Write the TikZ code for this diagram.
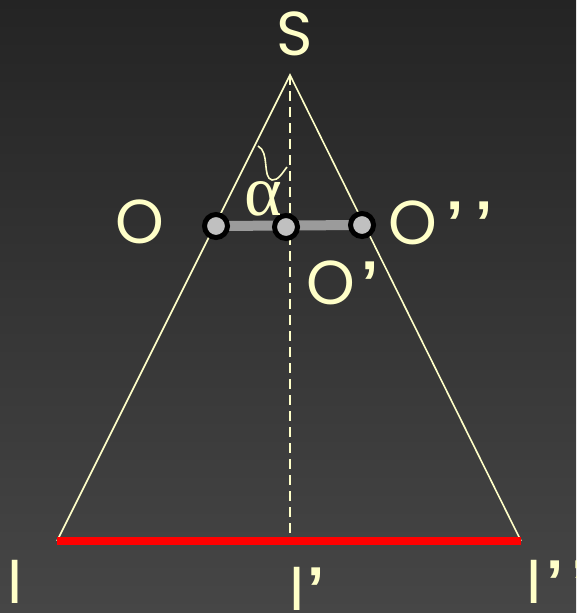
\documentclass[tikz,border=0pt]{standalone}
\usepackage{fontspec}
\setmainfont{Poppins}
\newfontfamily\greekfont{Liberation Serif}
\newfontfamily\quotefont{Liberation Sans}
\usetikzlibrary{positioning}
\definecolor{cream}{RGB}{255,255,200}
\definecolor{bgtop}{RGB}{36,36,36}
\definecolor{bgbot}{RGB}{70,70,70}
\definecolor{rodgray}{RGB}{155,155,155}
\definecolor{dotgray}{RGB}{192,192,192}
\newcommand{\pr}{{\quotefont\bfseries ’}}
\tikzset{
  lbl/.style={text=cream, font=\fontsize{62}{62}\selectfont, inner sep=0pt, anchor=base, text depth=0pt},
  greek/.style={lbl, font=\greekfont\fontsize{72}{72}\selectfont},
  ray/.style={draw=cream, line width=1.6pt, line join=miter},
  axis/.style={draw=cream, line width=1.6pt, dash pattern=on 10pt off 6pt},
  rod/.style={draw=rodgray, line width=10pt},
  dot/.style={circle, draw=black, fill=dotgray, line width=5pt, minimum size=23pt, inner sep=0pt},
  screen/.style={draw=red, line width=8pt},
}

\begin{document}
\begin{tikzpicture}[x=1pt, y=-1pt]
  % backdrop
  \useasboundingbox (0,0) rectangle (576,613);
  \shade[top color=bgtop, bottom color=bgbot] (0,0) rectangle (576,613);
  % source and cone
  \coordinate (apex) at (290,75);
  \coordinate (bl) at (57,541);
  \coordinate (br) at (521,541);
  \coordinate (foot) at (290,535);
  \draw[ray] (bl) -- (apex) -- (br);
  \draw[axis] (apex) -- (foot);
  \draw[screen] (bl) -- (br);
  % object rod
  \coordinate (p1) at (216,226);
  \coordinate (p2) at (286,227);
  \coordinate (p3) at (362,225);
  \draw[rod] (p1) -- (p3);
  \node[dot] (d1) at (p1) {};
  \node[dot] (d2) at (p2) {};
  \node[dot] (d3) at (p3) {};
  % angle
  \draw[cream, line width=1.6pt] (258,146) .. controls (270,152) and (262,178) .. (272,180)
    .. controls (278,181) and (283,172) .. (287,167);
  \node[greek] (alpha) at (263,215) {α};
  % labels
  \node[lbl] (s) at (295,55) {S};
  \node[lbl] (o) at (140,243) {O};
  \node[lbl, anchor=base west] (o1) at (306,304) {O\hspace{7pt}\pr};
  \node[lbl, anchor=base west] (o2) at (388,244) {O\hspace{10pt}\pr\hspace{11pt}\pr};
  \node[lbl] (i) at (15,603) {I};
  \node[lbl, anchor=base west] (i1) at (289,610) {I\hspace{3pt}\pr};
  \node[lbl, anchor=base west] (i2) at (526,603) {I\hspace{5pt}\pr\hspace{8pt}\pr};
\end{tikzpicture}
\end{document}
